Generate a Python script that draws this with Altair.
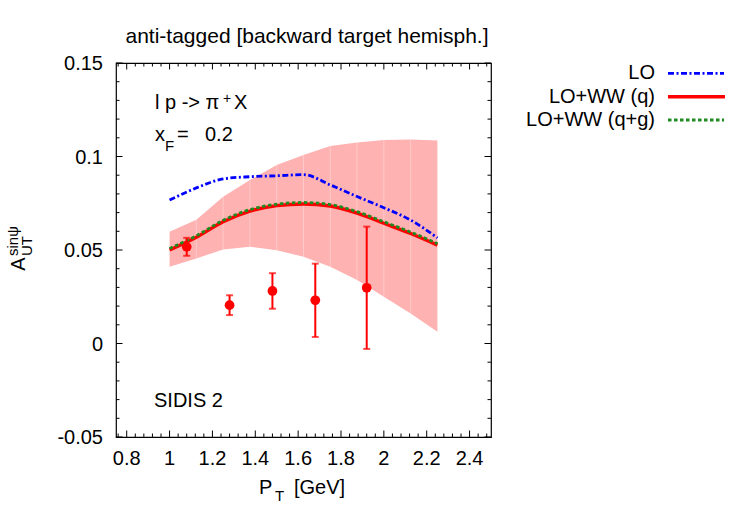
import altair as alt
import pandas as pd

# ---- theory curves, sampled in P_T ----
pt_grid = [1.0, 1.125, 1.25, 1.375, 1.5, 1.625, 1.75, 1.875, 2.0, 2.125, 2.25]
lo_curve = [0.0767, 0.0832, 0.0880, 0.0892, 0.0897, 0.0903, 0.0848, 0.0786, 0.0726, 0.0660, 0.0565]
ww_q_curve = [0.0500, 0.0568, 0.0651, 0.0708, 0.0737, 0.0746, 0.0735, 0.0697, 0.0643, 0.0588, 0.0526]
ww_qg_curve = [0.0508, 0.0576, 0.0659, 0.0716, 0.0745, 0.0754, 0.0743, 0.0705, 0.0651, 0.0596, 0.0534]
band_upper = [0.0598, 0.0662, 0.0785, 0.0874, 0.0955, 0.1008, 0.1056, 0.1075, 0.1088, 0.1091, 0.1086]
band_lower = [0.0410, 0.0455, 0.0503, 0.0517, 0.0499, 0.0464, 0.0410, 0.0339, 0.0250, 0.0161, 0.0063]

# ---- SIDIS measurements ----
sidis_pt = [1.08, 1.28, 1.48, 1.68, 1.92]
sidis_asym = [0.0517, 0.0205, 0.0281, 0.0231, 0.0298]
sidis_err = [0.0048, 0.0053, 0.0095, 0.0196, 0.0327]

# ---- axis ticks and their labels ----
x_major = [0.8, 1.0, 1.2, 1.4, 1.6, 1.8, 2.0, 2.2, 2.4]
x_labels = ["0.8", "1", "1.2", "1.4", "1.6", "1.8", "2", "2.2", "2.4"]
x_minor = [0.76, 0.84, 0.88, 0.92, 0.96, 1.04, 1.08, 1.12, 1.16, 1.24, 1.28, 1.32, 1.36,
           1.44, 1.48, 1.52, 1.56, 1.64, 1.68, 1.72, 1.76, 1.84, 1.88, 1.92, 1.96,
           2.04, 2.08, 2.12, 2.16, 2.24, 2.28, 2.32, 2.36, 2.44, 2.48]
y_major = [-0.05, 0.0, 0.05, 0.1, 0.15]
y_labels = ["-0.05", "0", "0.05", "0.1", "0.15"]
y_minor = [-0.04, -0.03, -0.02, -0.01, 0.01, 0.02, 0.03, 0.04, 0.06, 0.07, 0.08, 0.09,
           0.11, 0.12, 0.13, 0.14]

W, H = 375, 374
FONT = "Liberation Sans"
BLUE, RED, GREEN, BAND = "#0000ff", "#ff0000", "#1e8c1e", "#ffb2b2"

curves = pd.DataFrame({
    "pt": pt_grid, "lo": lo_curve, "q": ww_q_curve, "qg": ww_qg_curve,
    "hi_b": band_upper, "lo_b": band_lower,
})
points = pd.DataFrame({"pt": sidis_pt, "a": sidis_asym, "err": sidis_err})
points["lo"] = points["a"] - points["err"]
points["hi"] = points["a"] + points["err"]
one = pd.DataFrame({"k": [0]})

sx = alt.Scale(domain=[0.75, 2.5], nice=False, zero=False)
sy = alt.Scale(domain=[-0.05, 0.15], nice=False, zero=False)


def X(field):
    return alt.X(f"{field}:Q", scale=sx, axis=None)


def Y(field):
    return alt.Y(f"{field}:Q", scale=sy, axis=None)


# uncertainty band of the LO+WW prediction
band = alt.Chart(curves).mark_area(color=BAND, opacity=1).encode(
    x=X("pt"), y=Y("lo_b"), y2="hi_b:Q")
band_seams = alt.Chart(curves).transform_filter(
    "datum.pt > 1 && datum.pt < 2.25"
).mark_rule(color="white", opacity=0.3, strokeWidth=1).encode(
    x=X("pt"), y=Y("lo_b"), y2="hi_b:Q")


def curve(field, color, width, dash=None):
    kw = dict(color=color, strokeWidth=width, interpolate="monotone")
    if dash:
        kw["strokeDash"] = dash
    return alt.Chart(curves).mark_line(**kw).encode(x=X("pt"), y=Y(field))


lo_line = curve("lo", BLUE, 2.8, [6, 2.5, 2, 2.5])
q_line = curve("q", RED, 3.4)
qg_line = curve("qg", GREEN, 2.8, [3.5, 2.5])

err_bars = alt.Chart(points).mark_rule(color=RED, strokeWidth=2).encode(
    x=X("pt"), y=Y("lo"), y2="hi:Q")
cap_lo = alt.Chart(points).mark_tick(color=RED, orient="horizontal", size=7, thickness=2).encode(
    x=X("pt"), y=Y("lo"))
cap_hi = alt.Chart(points).mark_tick(color=RED, orient="horizontal", size=7, thickness=2).encode(
    x=X("pt"), y=Y("hi"))
dots = alt.Chart(points).mark_circle(color=RED, opacity=1, size=95).encode(
    x=X("pt"), y=Y("a"))


def label(text, x, y, size=20, align="left", angle=0):
    return alt.Chart(one).mark_text(
        text=text, fontSize=size, font=FONT, align=align, baseline="alphabetic",
        angle=angle, color="black",
    ).encode(x=alt.value(x), y=alt.value(y))


def hrule(x1, x2, y, color, width, dash=None):
    kw = dict(color=color, strokeWidth=width)
    if dash:
        kw["strokeDash"] = dash
    return alt.Chart(one).mark_rule(**kw).encode(
        x=alt.value(x1), x2=alt.value(x2), y=alt.value(y))


texts = [
    # title
    label("anti-tagged [backward target hemisph.]", 191, -20, size=21, align="center"),
    # process and kinematics
    label("l p -> \u03c0", 39, 46),
    label("+", 107, 40, size=14),
    label("X", 118, 46),
    label("x", 39, 78),
    label("F", 49, 88, size=15),
    label("=", 61, 78),
    label("0.2", 89, 78),
    label("SIDIS 2", 38, 344),
    # x-axis title
    label("P", 143, 431),
    label("T", 159, 438, size=15),
    label("[GeV]", 178, 431),
    # y-axis title
    label("A", -91, 201, align="center", angle=270),
    label("UT", -84, 193, size=15, angle=270),
    label("sin\u03c8", -98, 193, size=15, angle=270),
    # legend
    label("LO", 539, 16, align="right"),
    label("LO+WW (q)", 539, 40, align="right"),
    label("LO+WW (q+g)", 539, 63, align="right"),
]
legend_lines = [
    hrule(552, 608, 10.3, BLUE, 2.8, [6, 2.5, 2, 2.5]),
    hrule(552, 609, 33.7, RED, 3.4),
    hrule(552, 608, 57, GREEN, 2.8, [3.5, 2.5]),
]

# tick labels placed through the scales
x_tick_labels = alt.Chart(pd.DataFrame({"v": x_major, "t": x_labels})).mark_text(
    fontSize=20, font=FONT, align="center", baseline="alphabetic", color="black"
).encode(x=X("v"), y=alt.value(H + 28), text="t:N")
y_tick_labels = alt.Chart(pd.DataFrame({"v": y_major, "t": y_labels})).mark_text(
    fontSize=20, font=FONT, align="right", baseline="alphabetic", color="black", dy=7
).encode(y=Y("v"), x=alt.value(-13), text="t:N")


def ticks(values, length, axis_ch):
    df = pd.DataFrame({"v": values})
    base = alt.Chart(df).mark_rule(color="black", strokeWidth=1)
    if axis_ch == "x":
        return [
            base.encode(x=X("v"), y=alt.value(H), y2=alt.value(H - length)),
            base.encode(x=X("v"), y=alt.value(0), y2=alt.value(length)),
        ]
    return [
        base.encode(y=Y("v"), x=alt.value(0), x2=alt.value(length)),
        base.encode(y=Y("v"), x=alt.value(W), x2=alt.value(W - length)),
    ]


tick_layers = (ticks(x_major, 6.5, "x") + ticks(x_minor, 3.5, "x")
               + ticks(y_major, 6.5, "y") + ticks(y_minor, 3.5, "y"))

chart = alt.layer(
    band, band_seams, lo_line, q_line, qg_line, err_bars, cap_lo, cap_hi, dots,
    *tick_layers, x_tick_labels, y_tick_labels, *legend_lines, *texts,
).properties(
    width=W, height=H,
    padding={"left": 116, "top": 63, "right": 259, "bottom": 88},
    autosize=alt.AutoSizeParams(type="none"),
).configure(font=FONT).configure_view(stroke="black", strokeWidth=1.2)

chart.save("out.html", embed_options={"renderer": "svg", "actions": False})
